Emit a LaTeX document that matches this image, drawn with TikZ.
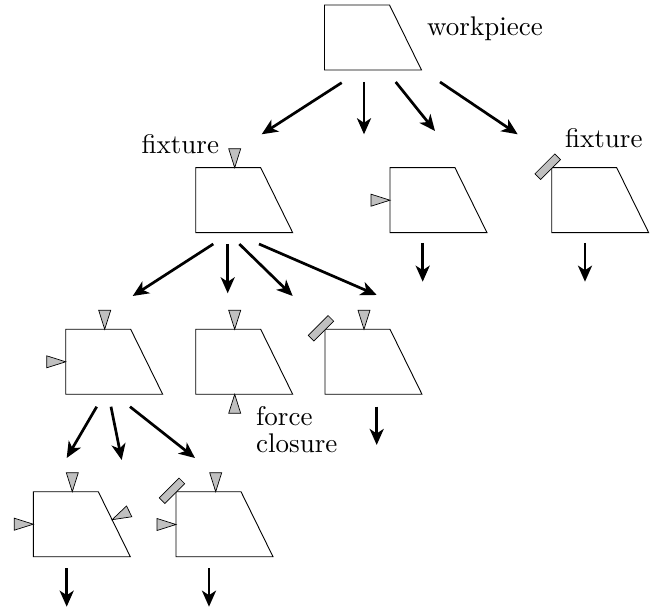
\documentclass[tikz,border=0pt]{standalone}
\usepackage{fontspec}
\setmainfont{lmroman10-regular.otf}
\usetikzlibrary{arrows.meta}
\definecolor{markgray}{RGB}{192,192,192}
\newcommand\trapnode[3]{%
  \node[inner sep=0pt,minimum width=97pt,minimum height=65pt,anchor=north west] (#1) at (#2,#3) {};
  \draw[trap] (#1.north west) -- ++(65,0) -- ++(32,65) -- ++(-97,0) -- cycle;}
\newcommand\gtri[2]{\draw[gmark,shift={(#1)},rotate=#2] (0,0) -- (-19,6) -- (-19,-6) -- cycle;}
\begin{document}
\begin{tikzpicture}[x=1pt,y=-1pt,
  trap/.style={draw=black,line width=0.9pt,line join=miter},
  gmark/.style={draw=black,fill=markgray,line width=0.7pt,line join=miter},
  barstyle/.style={draw=black,fill=markgray,line width=0.7pt,rectangle,minimum width=28pt,minimum height=8pt,inner sep=0pt,rotate=45},
  arr/.style={line width=2.7pt,-{Stealth[length=16pt,width=14pt,inset=4.5pt]}},
  lbl/.style={inner sep=0pt,font=\fontsize{27}{27}\selectfont}]
\useasboundingbox (0,0) rectangle (667,612);

% trapezoid blocks
\trapnode{W}{324.5}{5}
\trapnode{F}{195.7}{167.7}
\trapnode{M}{390}{167.7}
\trapnode{R}{551.7}{167.7}
\trapnode{A}{65.7}{329.3}
\trapnode{B}{195.7}{329.3}
\trapnode{C}{325}{329.3}
\trapnode{D}{33.3}{491.7}
\trapnode{E}{176}{491.7}

% contact markers
\coordinate (Ft) at (234.7,167.7);  \gtri{Ft}{-90}
\coordinate (Ml) at (390,200.2);    \gtri{Ml}{0}
\node[barstyle] (Rb) at (547.7,166.7) {};
\coordinate (At) at (104.7,329.3);  \gtri{At}{-90}
\coordinate (Al) at (65.7,361.8);   \gtri{Al}{0}
\coordinate (Bt) at (234.7,329.3);  \gtri{Bt}{-90}
\coordinate (Bb) at (234.7,394.3);  \gtri{Bb}{90}
\coordinate (Ct) at (364,329.3);    \gtri{Ct}{-90}
\node[barstyle] (Cb) at (321,328.3) {};
\coordinate (Dt) at (72.3,491.7);   \gtri{Dt}{-90}
\coordinate (Dl) at (33.3,524.2);   \gtri{Dl}{0}
\coordinate (Ds) at (112.1,519.7);  \gtri{Ds}{206}
\coordinate (Et) at (215.7,491.7);  \gtri{Et}{-90}
\coordinate (El) at (176,524.5);    \gtri{El}{0}
\node[barstyle] (Eb) at (172,490.8) {};

% labels
\node[lbl,anchor=base west] (lw) at (427,36) {workpiece};
\node[lbl,anchor=base west] (lf1) at (141.5,153.3) {fixture};
\node[lbl,anchor=base west] (lf2) at (565,147.3) {fixture};
\node[lbl,anchor=north west,align=left] (lfc) at (256,406) {force\\closure};

% arrow end points
\coordinate (W1) at (341.7,82.7); \coordinate (W1e) at (261.7,134.3);
\coordinate (W2) at (364,82);     \coordinate (W2e) at (364,134.3);
\coordinate (W3) at (395.7,82);   \coordinate (W3e) at (435,131);
\coordinate (W4) at (440,82);     \coordinate (W4e) at (517.7,134.3);
\coordinate (F1) at (213.3,244);  \coordinate (F1e) at (132.7,296);
\coordinate (F2) at (227.7,244);  \coordinate (F2e) at (227.7,293.3);
\coordinate (F3) at (239.3,244);  \coordinate (F3e) at (292.7,296);
\coordinate (F4) at (259,244);    \coordinate (F4e) at (376.7,295);
\coordinate (M1) at (422.7,243);  \coordinate (M1e) at (422.7,281.7);
\coordinate (R1) at (585,243);    \coordinate (R1e) at (585,281.7);
\coordinate (C1) at (376.7,406.7);\coordinate (C1e) at (376.7,445);
\coordinate (A1) at (96.7,406.7); \coordinate (A1e) at (66.7,458);
\coordinate (A2) at (111,406.7);  \coordinate (A2e) at (121.7,460);
\coordinate (A3) at (130,406.7);  \coordinate (A3e) at (195,458);
\coordinate (D1) at (66.7,568);   \coordinate (D1e) at (66.7,606.7);
\coordinate (E1) at (209,568);    \coordinate (E1e) at (209,606.7);

\foreach \s in {W1,W2,W3,W4,F1,F2,F3,F4,M1,R1,C1,A1,A2,A3,D1,E1}
  \draw[arr] (\s) -- (\s e);
\end{tikzpicture}
\end{document}
